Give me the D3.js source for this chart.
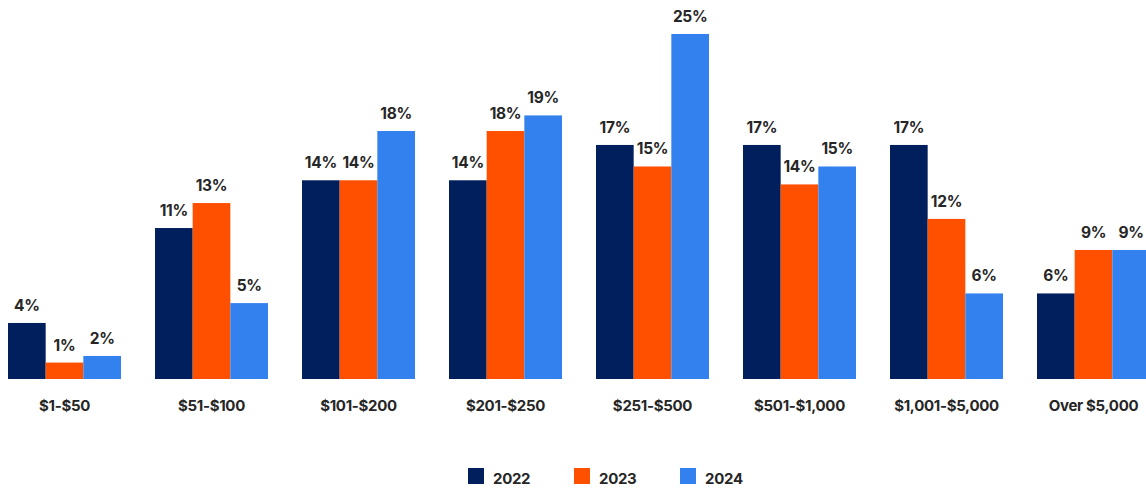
<!DOCTYPE html>
<html>
<head>
<meta charset="utf-8">
<script src="https://cdn.jsdelivr.net/npm/d3@7"></script>
<style>
  body { margin: 0; background: #fff; }
  text { font-family: Inter, "Noto Sans", sans-serif; fill: #262626; letter-spacing: -0.3px; }
</style>
</head>
<body>
<div id="chart"></div>
<script>
var categories = ["$1-$50", "$51-$100", "$101-$200", "$201-$250", "$251-$500", "$501-$1,000", "$1,001-$5,000", "Over $5,000"];
var years = ["2022", "2023", "2024"];
// bar heights, labels are the rounded numbers shown
var values2022 = [4.06, 10.94, 14.4, 14.4, 16.96, 16.96, 16.96, 6.2];
var values2023 = [1.19, 12.75, 14.4, 17.97, 15.4, 14.1, 11.6, 9.35];
var values2024 = [1.67, 5.5, 17.97, 19.1, 25, 15.4, 6.2, 9.35];
var labels2022 = ["4%", "11%", "14%", "14%", "17%", "17%", "17%", "6%"];
var labels2023 = ["1%", "13%", "14%", "18%", "15%", "14%", "12%", "9%"];
var labels2024 = ["2%", "5%", "18%", "19%", "25%", "15%", "6%", "9%"];

var colors = ["#001f5c", "#ff5000", "#3381ee"];

var W = 1146, H = 488, baseline = 379;

var svg = d3.select("#chart").append("svg")
    .attr("width", W)
    .attr("height", H);

var x0 = d3.scaleBand()
    .domain(categories)
    .range([-9, 1167])
    .paddingInner(34 / 147)
    .paddingOuter(17 / 147);

var x1 = d3.scaleBand()
    .domain(years)
    .range([0, x0.bandwidth()]);

var y = d3.scaleLinear().domain([0, 25]).range([baseline, 34]);

var series = [
    { year: "2022", values: values2022, labels: labels2022 },
    { year: "2023", values: values2023, labels: labels2023 },
    { year: "2024", values: values2024, labels: labels2024 }
];

series.forEach(function(s, i) {
    var rows = categories.map(function(c, j) {
        return { cat: c, value: s.values[j], label: s.labels[j] };
    });
    var g = svg.append("g");
    g.selectAll("rect")
        .data(rows)
        .enter().append("rect")
        .attr("x", function(d) { return x0(d.cat) + x1(s.year); })
        .attr("y", function(d) { return y(d.value); })
        .attr("width", x1.bandwidth())
        .attr("height", function(d) { return baseline - y(d.value); })
        .attr("fill", colors[i]);
    g.selectAll("text")
        .data(rows)
        .enter().append("text")
        .attr("x", function(d) { return x0(d.cat) + x1(s.year) + x1.bandwidth() / 2; })
        .attr("y", function(d) { return y(d.value) - 12; })
        .attr("text-anchor", "middle")
        .style("font-size", "15.5px")
        .style("font-weight", 700)
        .text(function(d) { return d.label; });
});

svg.append("g")
    .selectAll("text")
    .data(categories)
    .enter().append("text")
    .attr("x", function(d) { return x0(d) + x0.bandwidth() / 2; })
    .attr("y", 411)
    .attr("text-anchor", "middle")
    .style("font-size", "15px")
    .style("font-weight", 700)
    .text(function(d) { return d; });

var legend = svg.append("g")
    .selectAll("g")
    .data(years)
    .enter().append("g")
    .attr("transform", function(d, i) { return "translate(" + (468 + i * 106) + ",468)"; });

legend.append("rect")
    .attr("width", 16)
    .attr("height", 16)
    .attr("fill", function(d, i) { return colors[i]; });

legend.append("text")
    .attr("x", 25)
    .attr("y", 16)
    .style("font-size", "15px")
    .style("font-weight", 700)
    .text(function(d) { return d; });
</script>
</body>
</html>
